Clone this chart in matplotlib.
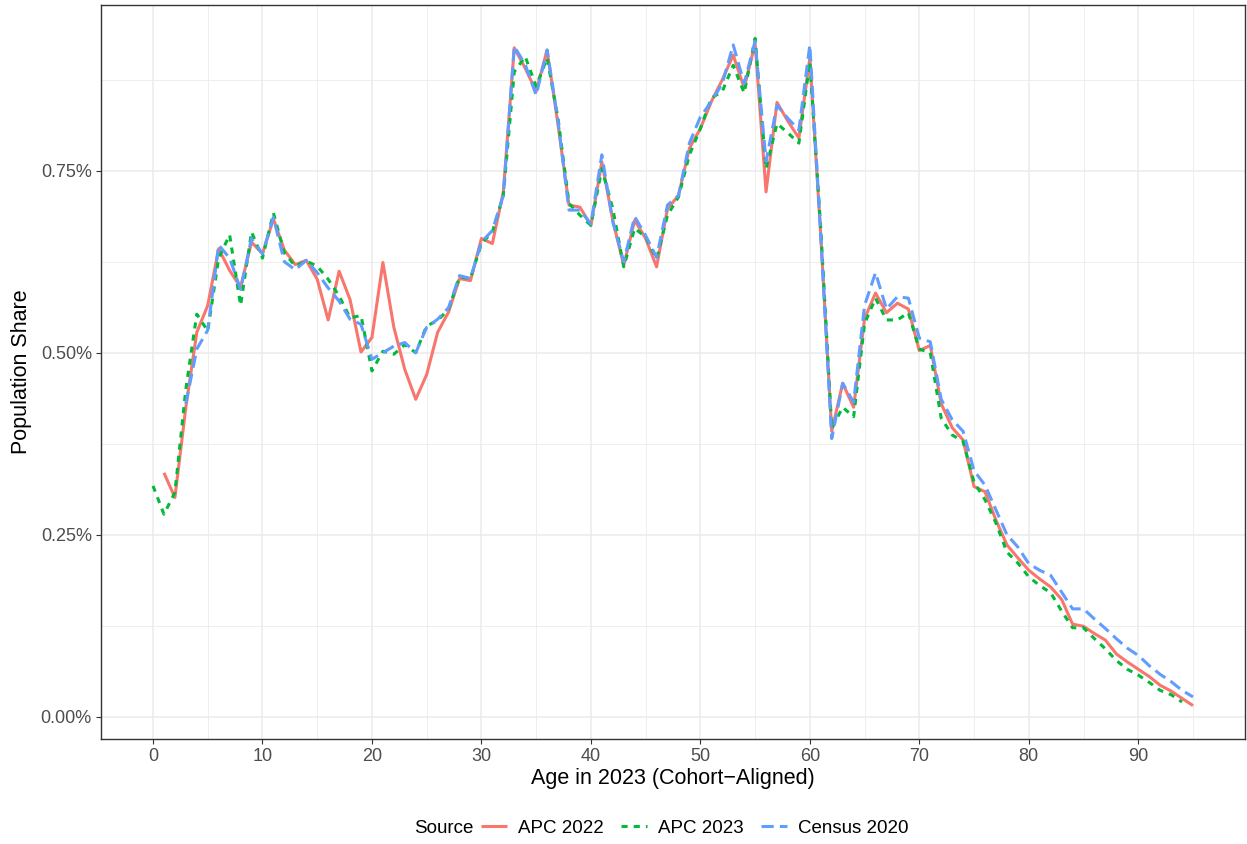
import numpy as np
import matplotlib
matplotlib.use("Agg")
import matplotlib.pyplot as plt
from matplotlib.ticker import FixedLocator, FuncFormatter

plt.rcParams['font.family'] = ['Liberation Sans', 'DejaVu Sans']

# population share (%) by age in 2023, cohort-aligned
ages_apc22 = np.arange(1, 96)
share_apc22 = [
    0.335, 0.301, 0.425, 0.528, 0.565, 0.643, 0.613, 0.590, 0.652, 0.636,
    0.684, 0.641, 0.621, 0.627, 0.601, 0.545, 0.612, 0.573, 0.501, 0.521,
    0.624, 0.535, 0.477, 0.436, 0.470, 0.528, 0.556, 0.602, 0.599, 0.657,
    0.650, 0.721, 0.919, 0.891, 0.859, 0.916, 0.813, 0.703, 0.700, 0.675,
    0.762, 0.682, 0.620, 0.682, 0.657, 0.618, 0.698, 0.716, 0.781, 0.808,
    0.845, 0.875, 0.909, 0.864, 0.925, 0.721, 0.844, 0.818, 0.795, 0.905,
    0.660, 0.392, 0.458, 0.425, 0.547, 0.582, 0.555, 0.568, 0.560, 0.503,
    0.510, 0.430, 0.397, 0.380, 0.316, 0.309, 0.270, 0.236, 0.218, 0.201,
    0.189, 0.178, 0.161, 0.127, 0.124, 0.114, 0.105, 0.086, 0.075, 0.065,
    0.055, 0.043, 0.035, 0.025, 0.015,
]

ages_apc23 = np.arange(0, 95)
share_apc23 = [
    0.317, 0.278, 0.308, 0.450, 0.553, 0.530, 0.630, 0.662, 0.565, 0.666,
    0.630, 0.692, 0.637, 0.619, 0.626, 0.619, 0.601, 0.578, 0.548, 0.551,
    0.475, 0.502, 0.498, 0.511, 0.500, 0.537, 0.544, 0.560, 0.604, 0.602,
    0.650, 0.666, 0.716, 0.886, 0.907, 0.866, 0.905, 0.822, 0.705, 0.689,
    0.675, 0.753, 0.698, 0.618, 0.671, 0.659, 0.629, 0.689, 0.714, 0.772,
    0.808, 0.850, 0.859, 0.895, 0.857, 0.932, 0.753, 0.815, 0.802, 0.788,
    0.900, 0.670, 0.396, 0.425, 0.412, 0.540, 0.575, 0.545, 0.545, 0.555,
    0.505, 0.500, 0.410, 0.387, 0.378, 0.322, 0.298, 0.266, 0.226, 0.211,
    0.192, 0.180, 0.170, 0.145, 0.122, 0.122, 0.107, 0.093, 0.077, 0.065,
    0.057, 0.047, 0.036, 0.030, 0.020,
]

ages_census = np.arange(3, 96)
share_census = [
    0.430, 0.505, 0.531, 0.648, 0.630, 0.587, 0.657, 0.636, 0.686, 0.625,
    0.614, 0.627, 0.610, 0.589, 0.571, 0.546, 0.539, 0.491, 0.500, 0.509,
    0.514, 0.500, 0.535, 0.546, 0.562, 0.606, 0.602, 0.652, 0.668, 0.716,
    0.921, 0.896, 0.854, 0.916, 0.818, 0.696, 0.696, 0.677, 0.772, 0.680,
    0.625, 0.687, 0.661, 0.631, 0.703, 0.716, 0.788, 0.824, 0.845, 0.870,
    0.923, 0.870, 0.928, 0.763, 0.840, 0.822, 0.806, 0.923, 0.660, 0.382,
    0.458, 0.432, 0.565, 0.610, 0.560, 0.577, 0.575, 0.520, 0.515, 0.436,
    0.408, 0.392, 0.338, 0.318, 0.284, 0.250, 0.233, 0.210, 0.201, 0.194,
    0.171, 0.148, 0.148, 0.134, 0.121, 0.107, 0.094, 0.084, 0.070, 0.058,
    0.048, 0.036, 0.027,
]

x_ticks = list(range(0, 91, 10))
y_ticks = [0.0, 0.25, 0.5, 0.75]

fig = plt.figure(figsize=(12.47, 8.44), dpi=100)
ax = fig.add_axes([101 / 1247, 105 / 844, 1144 / 1247, 734 / 844])

lw = 2.2
ax.plot(ages_apc22, share_apc22, color='#F8766D', lw=lw, label='APC 2022',
        solid_capstyle='butt')
ax.plot(ages_apc23, share_apc23, color='#00BA38', lw=lw, label='APC 2023',
        dashes=(2, 2), dash_capstyle='butt')
ax.plot(ages_census, share_census, color='#619CFF', lw=lw, label='Census 2020',
        dashes=(4, 2), dash_capstyle='butt')

# ggplot-style 5% expansion
allx = np.concatenate([ages_apc22, ages_apc23, ages_census])
ally = np.concatenate([share_apc22, share_apc23, share_census])
dx = (allx.max() - allx.min()) * 0.05
dy = (ally.max() - ally.min()) * 0.05
ax.set_xlim(allx.min() - dx, allx.max() + dx)
ax.set_ylim(ally.min() - dy, ally.max() + dy)

ax.xaxis.set_major_locator(FixedLocator(x_ticks))
ax.xaxis.set_minor_locator(FixedLocator([t + 5 for t in x_ticks]))
ax.yaxis.set_major_locator(FixedLocator(y_ticks))
ax.yaxis.set_minor_locator(FixedLocator([t + 0.125 for t in y_ticks]))
ax.yaxis.set_major_formatter(FuncFormatter(lambda v, p: f'{v:.2f}%'))

ax.grid(which='major', color='#EBEBEB', lw=1.1)
ax.grid(which='minor', color='#EBEBEB', lw=0.6)
ax.set_axisbelow(True)
for s in ax.spines.values():
    s.set_color('#333333')
    s.set_linewidth(1.0)
ax.tick_params(which='major', length=3.5, width=0.8, color='#333333',
               labelsize=13, labelcolor='#4D4D4D', pad=3)
ax.tick_params(which='minor', length=0)

ax.set_xlabel('Age in 2023 (Cohort\u2212Aligned)', fontsize=15.5, color='black', labelpad=2)
ax.set_ylabel('Population Share', fontsize=15.5, color='black', labelpad=6)

leg = fig.legend(loc='center', bbox_to_anchor=(0.557, 0.0185), ncol=3, frameon=False,
                 fontsize=13.5, handlelength=1.4, handletextpad=0.6, columnspacing=0.9,
                 borderpad=0, borderaxespad=0)

# legend title sits to the left of the keys, as in ggplot bottom legends
fig.canvas.draw()
bb = leg.get_window_extent().transformed(fig.transFigure.inverted())
fig.text(bb.x0 - 0.006, 0.0185, 'Source', fontsize=13.5, ha='right', va='center')

fig.savefig('out.png', dpi=100)
